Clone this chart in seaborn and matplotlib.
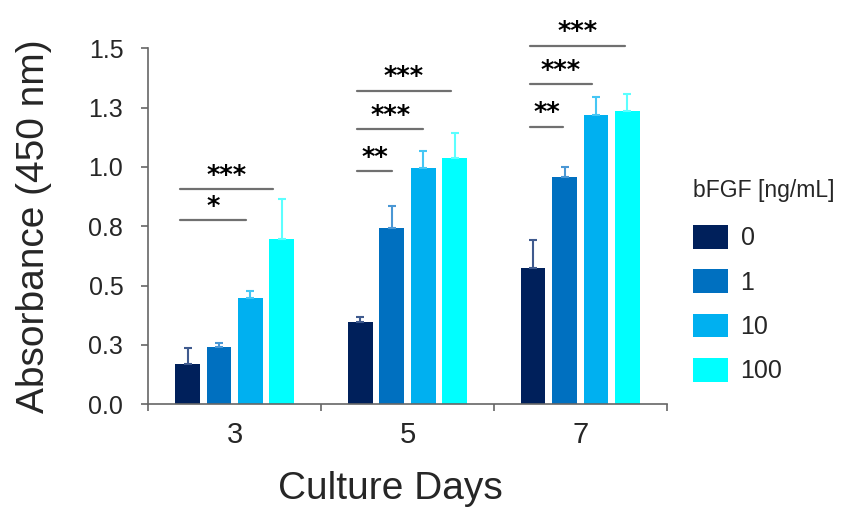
import numpy as np
import pandas as pd
import seaborn as sns
import matplotlib.pyplot as plt

# Culture days (x categories) and bFGF concentrations (hue levels)
days = ['3', '5', '7']
doses = ['0', '1', '10', '100']

# Mean absorbance at 450 nm for each dose, per culture day
abs_0 = [0.169, 0.348, 0.573]
abs_1 = [0.240, 0.744, 0.959]
abs_10 = [0.447, 0.997, 1.219]
abs_100 = [0.695, 1.037, 1.236]

# Standard deviations (drawn as upward error bars)
sd_0 = [0.067, 0.020, 0.119]
sd_1 = [0.017, 0.093, 0.042]
sd_10 = [0.032, 0.072, 0.075]
sd_100 = [0.171, 0.108, 0.072]

# Y tick values and their printed labels
ytick_vals = [0.0, 0.25, 0.5, 0.75, 1.0, 1.25, 1.5]
ytick_labels = ['0.0', '0.3', '0.5', '0.8', '1.0', '1.3', '1.5']

# Significance brackets: (day index, x start offset, x end offset, height, stars)
sig_day = [0, 0, 1, 1, 1, 2, 2, 2]
sig_x0 = [-0.317, -0.317, -0.292, -0.292, -0.292, -0.291, -0.291, -0.291]
sig_x1 = [0.065, 0.223, -0.088, 0.091, 0.252, -0.098, 0.069, 0.259]
sig_y = [0.777, 0.907, 0.983, 1.160, 1.322, 1.170, 1.350, 1.511]
sig_text = ['*', '***', '**', '***', '***', '**', '***', '***']

colors = ['#00205B', '#0070C0', '#00B0F0', '#00FFFF']
err_colors = ['#3F5A8E', '#4A97D4', '#45C6F4', '#5CFFFF']

means = [abs_0, abs_1, abs_10, abs_100]
sds = [sd_0, sd_1, sd_10, sd_100]

df = pd.DataFrame({
    'day': [d for _ in doses for d in days],
    'bFGF': [c for c in doses for _ in days],
    'absorbance': [v for m in means for v in m],
})

sns.set_theme(style='white')
plt.rcParams['font.family'] = ['Liberation Sans', 'DejaVu Sans']

fig = plt.figure(figsize=(8.46, 5.07), dpi=100)
ax = fig.add_axes([0.1753, 0.2026, 0.6127, 0.7021])

sns.barplot(data=df, x='day', y='absorbance', hue='bFGF', order=days,
            hue_order=doses, palette=colors, width=0.727, gap=0.214,
            errorbar=None, saturation=1, linewidth=0, ax=ax)

# Upward-only error bars on each bar
for cont, sd, ec in zip(ax.containers, sds, err_colors):
    xs = [b.get_x() + b.get_width() / 2 for b in cont]
    ys = [b.get_height() for b in cont]
    ax.errorbar(xs, ys, yerr=[np.zeros(len(sd)), sd], fmt='none',
                ecolor=ec, elinewidth=1.5, capsize=3, capthick=1.5, zorder=3)

# Significance brackets and stars
for d, x0, x1, y, t in zip(sig_day, sig_x0, sig_x1, sig_y, sig_text):
    ax.plot([d + x0, d + x1], [y, y], color='#707070', lw=1.6,
            clip_on=False, zorder=4)
    ax.text(d + (x0 + x1) / 2, y + 0.022, t, ha='center', va='baseline',
            fontsize=18.5, fontweight='bold', family='DejaVu Sans',
            color='black', clip_on=False)

spine_col = '#666666'
ax.set_xlim(-0.5, 2.5)
ax.set_ylim(0, 1.5)
ax.set_xticks(range(len(days)))
ax.set_xticklabels(days)
ax.set_xticks([-0.5, 0.5, 1.5, 2.5], minor=True)
ax.set_yticks(ytick_vals)
ax.set_yticklabels(ytick_labels)
ax.tick_params(axis='x', which='major', length=0, pad=12, labelsize=21)
ax.tick_params(axis='x', which='minor', length=5, width=1.2,
               color=spine_col, direction='out', bottom=True)
ax.tick_params(axis='y', length=5, width=1.2, color=spine_col,
               direction='out', left=True, pad=13, labelsize=18)

for s in ['top', 'right']:
    ax.spines[s].set_visible(False)
for s in ['left', 'bottom']:
    ax.spines[s].set_color(spine_col)
    ax.spines[s].set_linewidth(1.2)

ax.set_xlabel('')
ax.set_ylabel('')
fig.text(33.5 / 846, 1 - 226 / 507, 'Absorbance (450 nm)', rotation=90,
         ha='center', va='center', fontsize=28)
fig.text(390.5 / 846, 1 - 499 / 507, 'Culture Days', ha='center',
         va='baseline', fontsize=28)

# Legend: title as its own text, entries below it
fig.text(693 / 846, 1 - 197 / 507, 'bFGF [ng/mL]', ha='left',
         va='baseline', fontsize=16.5)
handles, labels = ax.get_legend_handles_labels()
ax.legend(handles, labels, loc='upper left',
          bbox_to_anchor=(693 / 846, 1 - 225 / 507),
          bbox_transform=fig.transFigure, frameon=False, fontsize=18,
          handlelength=1.4, handleheight=1.08,
          handletextpad=0.5, labelspacing=0.76, borderpad=0,
          borderaxespad=0)

fig.savefig('out.png', dpi=100)
